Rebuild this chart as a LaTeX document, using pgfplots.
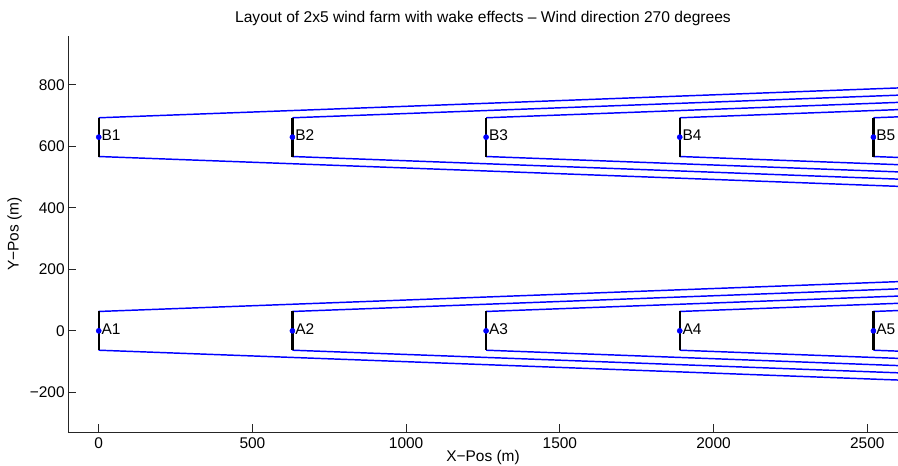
\documentclass[border=0pt]{standalone}
\usepackage{fontspec}
\setmainfont{Liberation Sans}
\usepackage{pgfplots}
\pgfplotsset{compat=1.18}
\usepackage{pgfplotstable}

% Wake boundaries (top and bottom edge of each wake), rows separated by nan
\pgfplotstableread{
x y
0 63
2600 160
nan nan
630 63
2600 136.5
nan nan
1260 63
2600 113
nan nan
1890 63
2600 89.5
nan nan
2520 63
2600 66
nan nan
0 -63
2600 -160
nan nan
630 -63
2600 -136.5
nan nan
1260 -63
2600 -113
nan nan
1890 -63
2600 -89.5
nan nan
2520 -63
2600 -66
nan nan
0 693
2600 790
nan nan
630 693
2600 766.5
nan nan
1260 693
2600 743
nan nan
1890 693
2600 719.5
nan nan
2520 693
2600 696
nan nan
0 567
2600 470
nan nan
630 567
2600 493.5
nan nan
1260 567
2600 517
nan nan
1890 567
2600 540.5
nan nan
2520 567
2600 564
}\wakes

% Rotor discs seen edge-on (diameter 126 m)
\pgfplotstableread{
x y
0 -63
0 63
nan nan
630 -63
630 63
nan nan
1260 -63
1260 63
nan nan
1890 -63
1890 63
nan nan
2520 -63
2520 63
nan nan
0 567
0 693
nan nan
630 567
630 693
nan nan
1260 567
1260 693
nan nan
1890 567
1890 693
nan nan
2520 567
2520 693
}\rotors

% Turbine hub positions
\pgfplotstableread{
x y lab
0 0 A1
630 0 A2
1260 0 A3
1890 0 A4
2520 0 A5
0 630 B1
630 630 B2
1260 630 B3
1890 630 B4
2520 630 B5
}\turbines

\definecolor{axisgray}{RGB}{38,38,38}

\begin{document}
\begin{tikzpicture}[x=1pt,y=1pt]
\useasboundingbox (-51,-25.5) rectangle (622.5,324);
\begin{axis}[
  at={(0,0)}, anchor=south west,
  scale only axis, width=622.5pt, height=297pt,
  xmin=-100, xmax=2600, ymin=-329, ymax=959,
  axis x line=bottom, axis y line=left,
  axis line style={axisgray, line width=0.6pt, -},
  tick align=inside, major tick length=6pt,
  tick style={axisgray, line width=0.6pt},
  xtick={0,500,1000,1500,2000,2500},
  xticklabels={0,500,1000,1500,2000,2500},
  ytick={-200,0,200,400,600,800},
  yticklabels={−200,0,200,400,600,800},
  ticklabel style={font=\fontsize{11.6}{13}\selectfont},
  xticklabel style={yshift=-0.5pt},
  yticklabel style={xshift=1pt},
  title={Layout of 2x5 wind farm with wake effects – Wind direction 270 degrees},
  title style={font=\fontsize{11.7}{13}\selectfont, at={(0.5,1)}, anchor=center, yshift=7.3pt},
  xlabel={X−Pos (m)}, ylabel={Y−Pos (m)},
  label style={font=\fontsize{11.6}{13}\selectfont},
  xlabel style={at={(0.5,0)}, anchor=center, yshift=-19pt},
  ylabel style={at={(0,0.5)}, anchor=center, yshift=40pt},
  unbounded coords=jump,
  clip=true,
]
\addplot[blue, line width=1.1pt] table {\wakes};
\addplot[black, line width=1.8pt] table {\rotors};
\addplot[only marks, mark=*, mark size=1.9pt, blue,
  nodes near coords, point meta=explicit symbolic,
  nodes near coords style={anchor=west, inner sep=0pt, xshift=2pt, yshift=1.5pt,
    text=black, font=\fontsize{11.6}{13}\selectfont}]
  table[meta=lab] {\turbines};
\end{axis}
\end{tikzpicture}
\end{document}
